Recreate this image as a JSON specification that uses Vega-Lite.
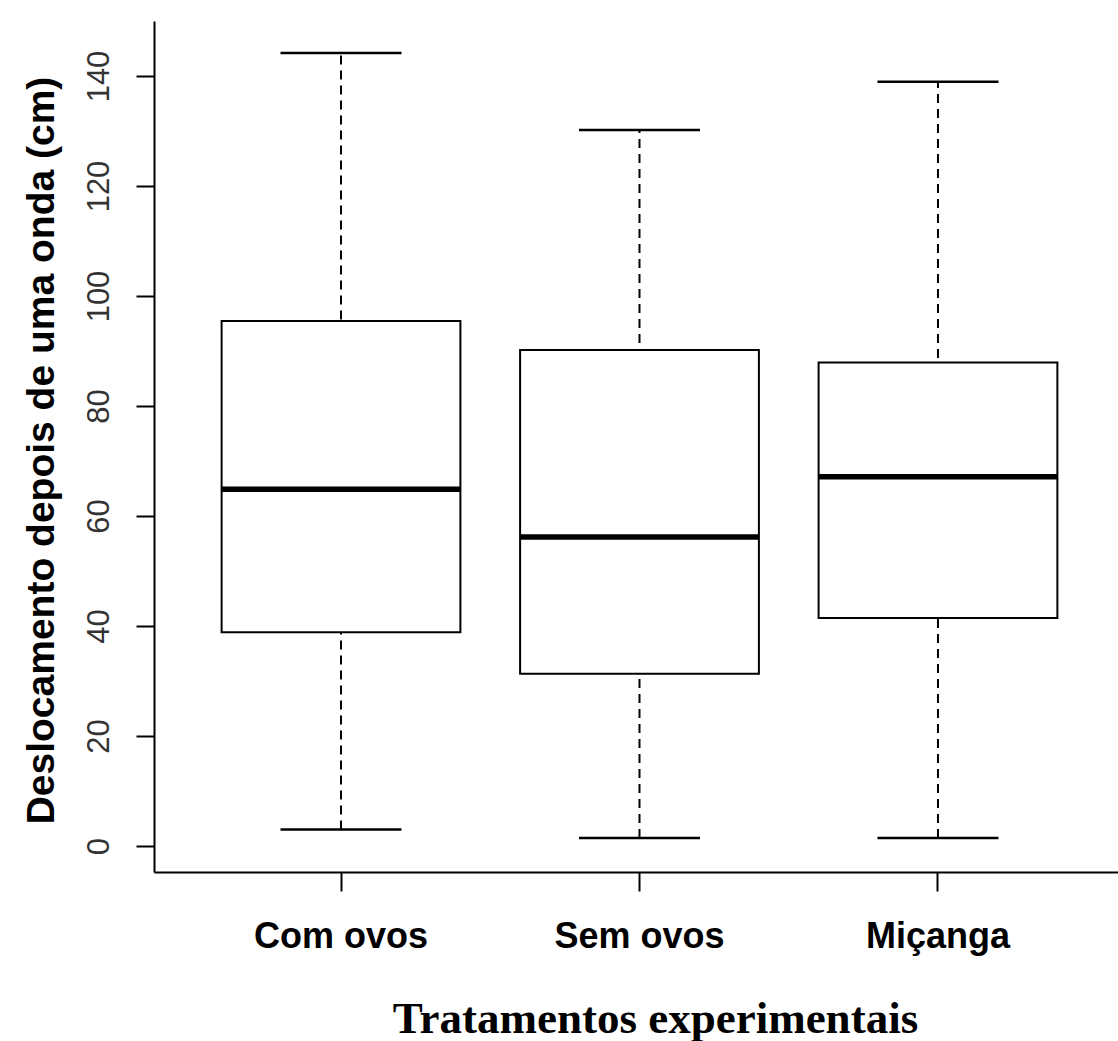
{
  "$schema": "https://vega.github.io/schema/vega-lite/v6.json",
  "width": 964,
  "height": 851,
  "autosize": {"type": "none"},
  "padding": {"left": 154, "top": 21, "right": 0, "bottom": 169},
  "background": "white",
  "config": {
    "view": {"stroke": null},
    "axis": {"grid": false, "domainColor": "black", "domainWidth": 2, "tickColor": "black", "tickWidth": 2}
  },
  "data": {
    "values": [
      {"grupo": "Com ovos", "min": 3.0, "q1": 38.85, "mediana": 64.85, "q3": 95.45, "max": 144.2},
      {"grupo": "Sem ovos", "min": 1.45, "q1": 31.3, "mediana": 56.2, "q3": 90.2, "max": 130.2},
      {"grupo": "Miçanga", "min": 1.45, "q1": 41.45, "mediana": 67.15, "q3": 87.9, "max": 138.95}
    ]
  },
  "encoding": {
    "x": {
      "field": "grupo",
      "type": "nominal",
      "sort": ["Com ovos", "Sem ovos", "Miçanga"],
      "scale": {"type": "band", "paddingInner": 0, "paddingOuter": 0.1148, "align": 0.551},
      "axis": {
        "title": "Tratamentos experimentais",
        "titleFont": "Liberation Serif",
        "titleFontSize": 45,
        "titleFontWeight": "bold",
        "titleColor": "black",
        "titleX": 501,
        "titleY": 160,
        "titleAlign": "center",
        "titleBaseline": "alphabetic",
        "labelFont": "Liberation Sans",
        "labelFontSize": 36,
        "labelFontWeight": "bold",
        "labelColor": "black",
        "labelAngle": 0,
        "labelAlign": "center",
        "labelBaseline": "alphabetic",
        "labelPadding": 56,
        "labelDx": 6,
        "tickSize": 19
      }
    }
  },
  "layer": [
    {
      "mark": {"type": "rule", "strokeDash": [9, 6], "strokeWidth": 2, "color": "black"},
      "encoding": {
        "y": {
          "field": "min",
          "type": "quantitative",
          "title": "Deslocamento depois de uma onda (cm)",
          "scale": {"domain": [-4.727, 150], "nice": false, "zero": false},
          "axis": {
            "values": [0, 20, 40, 60, 80, 100, 120, 140],
            "labelAngle": 270,
            "labelAlign": "center",
            "labelBaseline": "alphabetic",
            "labelPadding": 28,
            "labelFont": "Liberation Sans",
            "labelFontSize": 31,
            "labelColor": "#333333",
            "tickSize": 18,
            "titleFont": "Liberation Sans",
            "titleFontSize": 39,
            "titleFontWeight": "bold",
            "titleColor": "black",
            "titleAngle": 270,
            "titleAlign": "center",
            "titleBaseline": "alphabetic",
            "titleX": -101,
            "titleY": 429
          }
        },
        "y2": {"field": "max"}
      }
    },
    {
      "mark": {"type": "tick", "size": 121, "thickness": 2.5, "color": "black", "opacity": 1},
      "encoding": {"y": {"field": "max", "type": "quantitative", "title": "Deslocamento depois de uma onda (cm)"}}
    },
    {
      "mark": {"type": "tick", "size": 121, "thickness": 2.5, "color": "black", "opacity": 1},
      "encoding": {"y": {"field": "min", "type": "quantitative", "title": "Deslocamento depois de uma onda (cm)"}}
    },
    {
      "mark": {"type": "bar", "width": {"band": 0.8}, "fill": "white", "stroke": "black", "strokeWidth": 2},
      "encoding": {
        "y": {"field": "q1", "type": "quantitative", "title": "Deslocamento depois de uma onda (cm)"},
        "y2": {"field": "q3"}
      }
    },
    {
      "mark": {"type": "tick", "size": 239, "thickness": 5.5, "color": "black", "opacity": 1},
      "encoding": {"y": {"field": "mediana", "type": "quantitative", "title": "Deslocamento depois de uma onda (cm)"}}
    }
  ]
}
